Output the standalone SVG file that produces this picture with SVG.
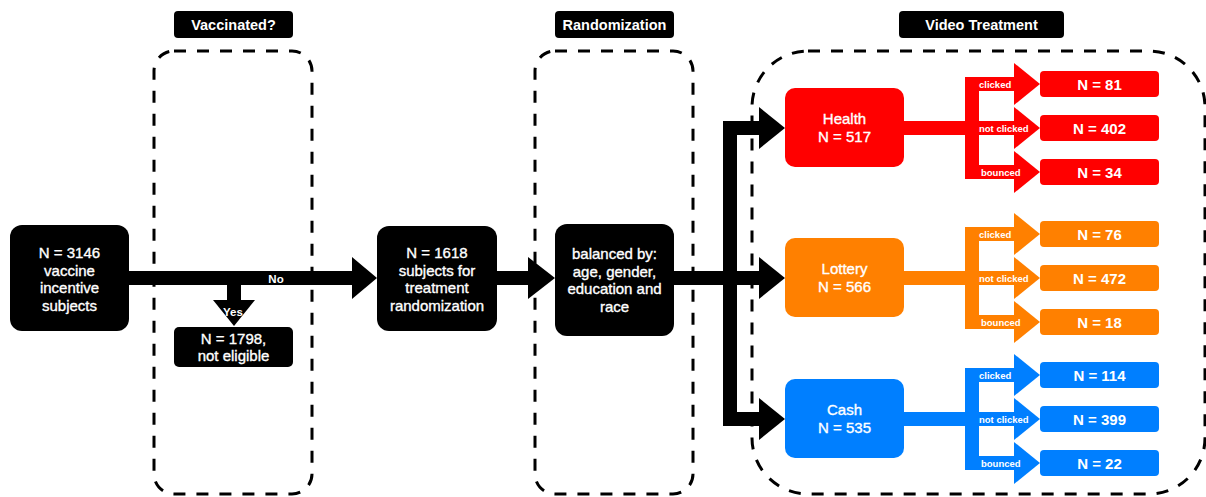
<svg xmlns="http://www.w3.org/2000/svg" width="1206" height="497" viewBox="0 0 1206 497">
<style>
text{font-family:"Liberation Sans",Arial,sans-serif;fill:#fff;text-anchor:middle}
.t{font-size:15px;stroke:#fff;stroke-width:0.35}
.lab{font-size:14.5px;font-weight:bold}
.out{font-size:15px;font-weight:bold}
.br{font-size:9.5px;font-weight:bold;text-anchor:start}
.sm{font-size:11.5px;font-weight:bold}
.dash{fill:none;stroke:#000;stroke-width:3;stroke-dasharray:12 11}
.blk{fill:#000}
.red{fill:#ff0000}
.org{fill:#ff8000}
.blu{fill:#007fff}
</style>
<defs>
<g id="branch">
<rect x="904" y="-7" width="75" height="14"/>
<rect x="965" y="-51" width="14" height="102"/>
<rect x="965" y="-51" width="49" height="14"/>
<rect x="965" y="-7" width="49" height="14"/>
<rect x="965" y="37" width="49" height="14"/>
<polygon points="1014,-65 1040,-44 1014,-23"/>
<polygon points="1014,-21 1040,0 1014,21"/>
<polygon points="1014,23 1040,44 1014,65"/>
<rect x="785" y="-40" width="119" height="79" rx="10"/>
<rect x="1040" y="-57" width="119" height="26" rx="4"/>
<rect x="1040" y="-13" width="119" height="26" rx="4"/>
<rect x="1040" y="31" width="119" height="26" rx="4"/>
</g>
</defs>

<g id="containers">
<rect class="dash" x="154" y="51" width="158" height="443" rx="20"/>
<rect class="dash" x="535" y="51" width="158" height="443" rx="20"/>
<rect class="dash" x="752" y="51" width="453" height="443" rx="56"/>
</g>

<g id="header-vaccinated">
<rect class="blk" x="174" y="11" width="119" height="27" rx="4"/>
<text class="lab" x="233.5" y="29.5">Vaccinated?</text>
</g>
<g id="header-randomization">
<rect class="blk" x="555" y="11" width="119" height="27" rx="4"/>
<text class="lab" x="614.5" y="29.5">Randomization</text>
</g>
<g id="header-video">
<rect class="blk" x="899" y="11" width="165" height="27" rx="4"/>
<text class="lab" x="981.5" y="29.5">Video Treatment</text>
</g>

<g id="connectors">
<rect class="blk" x="129" y="271" width="224" height="14"/>
<polygon class="blk" points="352,257 377,278 352,299"/>
<rect class="blk" x="227" y="284" width="14" height="17"/>
<polygon class="blk" points="213,300 255,300 234,326"/>
<text class="sm" x="276" y="283">No</text>
<text class="sm" x="233" y="316">Yes</text>
<rect class="blk" x="497" y="271" width="32" height="14"/>
<polygon class="blk" points="528,257 555,278 528,299"/>
<rect class="blk" x="674" y="271" width="86" height="14"/>
<rect class="blk" x="723" y="121" width="14" height="305"/>
<rect class="blk" x="723" y="121" width="37" height="14"/>
<rect class="blk" x="723" y="412" width="37" height="14"/>
<polygon class="blk" points="759,107 785,128 759,149"/>
<polygon class="blk" points="759,257 785,278 759,299"/>
<polygon class="blk" points="759,398 785,419 759,440"/>
</g>

<g id="node-start">
<rect class="blk" x="10" y="225" width="119" height="106" rx="12"/>
<text class="t" x="69.5" y="258">N = 3146</text>
<text class="t" x="69.5" y="275.5">vaccine</text>
<text class="t" x="69.5" y="293">incentive</text>
<text class="t" x="69.5" y="310.5">subjects</text>
</g>

<g id="node-noteligible">
<rect class="blk" x="174" y="327" width="119" height="40" rx="5"/>
<text class="t" x="233.5" y="344">N = 1798,</text>
<text class="t" x="233.5" y="361">not eligible</text>
</g>

<g id="node-1618">
<rect class="blk" x="377" y="226" width="120" height="105" rx="12"/>
<text class="t" x="437" y="258">N = 1618</text>
<text class="t" x="437" y="275.5">subjects for</text>
<text class="t" x="437" y="293">treatment</text>
<text class="t" x="437" y="310.5">randomization</text>
</g>

<g id="node-balanced">
<rect class="blk" x="555" y="224" width="119" height="112" rx="12"/>
<text class="t" x="614.5" y="259">balanced by:</text>
<text class="t" x="614.5" y="276.5">age, gender,</text>
<text class="t" x="614.5" y="294">education and</text>
<text class="t" x="614.5" y="311.5">race</text>
</g>

<g id="group-health">
<use href="#branch" class="red" transform="translate(0,128)"/>
<text class="t" x="844.5" y="124">Health</text>
<text class="t" x="844.5" y="142">N = 517</text>
<text class="br" x="979" y="87.5">clicked</text>
<text class="br" x="979" y="131.5">not clicked</text>
<text class="br" x="981" y="175.5">bounced</text>
<text class="out" x="1099.5" y="89.5">N = 81</text>
<text class="out" x="1099.5" y="133.5">N = 402</text>
<text class="out" x="1099.5" y="177.5">N = 34</text>
</g>

<g id="group-lottery">
<use href="#branch" class="org" transform="translate(0,278)"/>
<text class="t" x="844.5" y="274">Lottery</text>
<text class="t" x="844.5" y="292">N = 566</text>
<text class="br" x="979" y="237.5">clicked</text>
<text class="br" x="979" y="281.5">not clicked</text>
<text class="br" x="981" y="325.5">bounced</text>
<text class="out" x="1099.5" y="239.5">N = 76</text>
<text class="out" x="1099.5" y="283.5">N = 472</text>
<text class="out" x="1099.5" y="327.5">N = 18</text>
</g>

<g id="group-cash">
<use href="#branch" class="blu" transform="translate(0,419)"/>
<text class="t" x="844.5" y="415">Cash</text>
<text class="t" x="844.5" y="433">N = 535</text>
<text class="br" x="979" y="378.5">clicked</text>
<text class="br" x="979" y="422.5">not clicked</text>
<text class="br" x="981" y="466.5">bounced</text>
<text class="out" x="1099.5" y="380.5">N = 114</text>
<text class="out" x="1099.5" y="424.5">N = 399</text>
<text class="out" x="1099.5" y="468.5">N = 22</text>
</g>
</svg>
